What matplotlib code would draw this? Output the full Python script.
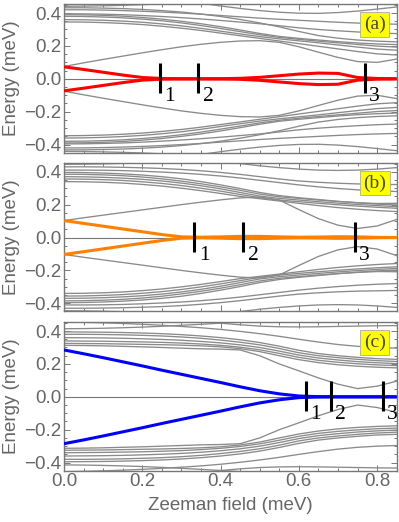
import matplotlib
matplotlib.use("Agg")
import matplotlib.pyplot as plt
import numpy as np
from matplotlib.ticker import MultipleLocator

# ---------------- data ----------------
field = [0.00, 0.05, 0.10, 0.15, 0.20, 0.25, 0.30, 0.35, 0.40, 0.45,
         0.50, 0.55, 0.60, 0.65, 0.70, 0.75, 0.80, 0.85]

# panel (a): upper halves of the gray bands (spectrum is +/- symmetric)
a1 = [0.075,0.097,0.118,0.138,0.158,0.177,0.195,0.21,0.222,0.23,0.232,0.222,0.195,0.162,0.13,0.105,0.1,0.12]
a2 = [0.346,0.345,0.342,0.337,0.33,0.32,0.308,0.294,0.278,0.262,0.246,0.23,0.214,0.198,0.182,0.166,0.152,0.145]
a3 = [0.36,0.359,0.356,0.351,0.344,0.334,0.322,0.307,0.29,0.273,0.257,0.243,0.231,0.219,0.206,0.193,0.181,0.174]
a4 = [0.38,0.379,0.376,0.371,0.363,0.353,0.34,0.324,0.306,0.287,0.268,0.252,0.24,0.229,0.219,0.209,0.199,0.193]
a5 = [0.396,0.395,0.393,0.39,0.385,0.379,0.372,0.364,0.355,0.345,0.335,0.323,0.31,0.3,0.292,0.285,0.279,0.275]
a6 = [0.42,0.42,0.418,0.415,0.411,0.406,0.4,0.393,0.385,0.377,0.369,0.362,0.356,0.35,0.344,0.339,0.335,0.332]
a7 = [0.441,0.442,0.444,0.447,0.451,0.456,0.461,0.467,0.473,0.479,0.485,0.491,0.497,0.502,0.507,0.512,0.516,0.52]
a8 = [0.6,0.58,0.56,0.54,0.52,0.5,0.478,0.46,0.443,0.428,0.415,0.405,0.399,0.398,0.403,0.412,0.424,0.437]
a9 = [0.432,0.432,0.43,0.427,0.422,0.415,0.406,0.394,0.379,0.361,0.34,0.316,0.288,0.263,0.247,0.236,0.229,0.225]
a10 = [0.39,0.389,0.386,0.381,0.373,0.363,0.35,0.335,0.317,0.297,0.276,0.258,0.246,0.236,0.226,0.218,0.212,0.208]

# panel (b)
b1 = [0.103,0.12,0.136,0.152,0.168,0.184,0.2,0.215,0.229,0.241,0.246,0.228,0.17,0.115,0.075,0.055,0.07,0.11]
b2 = [0.34,0.339,0.336,0.331,0.323,0.313,0.3,0.285,0.268,0.25,0.236,0.222,0.208,0.194,0.182,0.172,0.164,0.158]
b3 = [0.356,0.355,0.352,0.347,0.339,0.329,0.316,0.3,0.282,0.262,0.242,0.228,0.218,0.208,0.199,0.191,0.184,0.178]
b4 = [0.37,0.369,0.366,0.361,0.354,0.344,0.331,0.315,0.296,0.274,0.252,0.238,0.228,0.218,0.209,0.201,0.194,0.188]
b5 = [0.396,0.395,0.392,0.387,0.38,0.37,0.357,0.34,0.32,0.298,0.274,0.255,0.242,0.231,0.22,0.211,0.203,0.198]
b6 = [0.41,0.41,0.409,0.407,0.403,0.398,0.392,0.384,0.374,0.362,0.348,0.334,0.32,0.308,0.298,0.29,0.284,0.28]
b7 = [0.445,0.446,0.448,0.451,0.455,0.46,0.466,0.472,0.478,0.485,0.492,0.5,0.508,0.515,0.52,0.525,0.53,0.535]
b8 = [0.62,0.6,0.58,0.56,0.54,0.52,0.5,0.482,0.465,0.45,0.436,0.425,0.416,0.41,0.408,0.41,0.416,0.425]
b9 = [0.43,0.43,0.429,0.427,0.424,0.42,0.414,0.406,0.396,0.384,0.37,0.356,0.344,0.336,0.33,0.326,0.324,0.322]
b10 = [0.385,0.384,0.381,0.376,0.368,0.357,0.343,0.327,0.308,0.287,0.264,0.248,0.238,0.228,0.219,0.212,0.207,0.208]

# panel (c)
c1 = [0.313,0.312,0.31,0.307,0.304,0.3,0.296,0.292,0.29,0.285,0.25,0.2,0.158,0.115,0.077,0.05,0.065,0.095]
c2 = [0.325,0.324,0.323,0.321,0.319,0.317,0.314,0.31,0.304,0.293,0.275,0.25,0.226,0.208,0.195,0.186,0.18,0.176]
c3 = [0.34,0.339,0.338,0.336,0.334,0.331,0.327,0.321,0.313,0.302,0.286,0.264,0.24,0.222,0.21,0.201,0.194,0.19]
c4 = [0.36,0.359,0.358,0.356,0.353,0.349,0.344,0.337,0.328,0.316,0.3,0.278,0.254,0.236,0.224,0.214,0.207,0.202]
c5 = [0.38,0.38,0.379,0.377,0.374,0.37,0.364,0.356,0.345,0.332,0.316,0.294,0.268,0.25,0.238,0.228,0.22,0.215]
c6 = [0.414,0.415,0.417,0.42,0.424,0.429,0.435,0.441,0.448,0.455,0.462,0.47,0.478,0.486,0.494,0.5,0.506,0.51]
c7 = [0.455,0.453,0.45,0.446,0.441,0.435,0.428,0.42,0.41,0.398,0.384,0.368,0.35,0.333,0.318,0.307,0.3,0.296]
c8 = [0.6,0.58,0.56,0.54,0.52,0.5,0.48,0.462,0.448,0.438,0.43,0.426,0.425,0.426,0.428,0.43,0.432,0.433]
c9 = [0.395,0.394,0.393,0.391,0.388,0.384,0.378,0.37,0.36,0.347,0.33,0.308,0.283,0.263,0.25,0.24,0.232,0.228]

# lowest (Majorana-like) states, upper branch
red_state = [0.073,0.057,0.04,0.023,0.008,0.002,0.001,0.001,0.001,0.003,0.009,0.019,0.029,0.035,0.033,0.008,0.002,0.001]
orange_state = [0.103,0.086,0.069,0.052,0.035,0.018,0.004,0.002,0.004,0.007,0.007,0.004,0.002,0.003,0.005,0.004,0.001,0.0]
blue_state = [0.285,0.262,0.238,0.213,0.188,0.162,0.137,0.112,0.087,0.061,0.037,0.018,0.005,0.001,0.0,0.0,0.0,0.0]

# marker positions
marks_a = [0.244, 0.343, 0.768]
marks_b = [0.333, 0.458, 0.743]
marks_c = [0.618, 0.682, 0.814]
mark_labels = ["1", "2", "3"]
panel_labels = ["(a)", "(b)", "(c)"]

xticks = [0.0, 0.2, 0.4, 0.6, 0.8]
yticks = [-0.4, -0.2, 0.0, 0.2, 0.4]

# ---------------- figure ----------------
fig = plt.figure(figsize=(3.99, 5.22), dpi=100)
plt.rcParams['font.family'] = ['Liberation Sans', 'DejaVu Sans']

W = 399.0
H = 522.0
left = 64 / W
width = 332.7 / W
tops = [4.0, 162.7, 322.0]
height = 148.5 / H

panels = [
    ([a1, a2, a3, a4, a5, a6, a7, a8, a9, a10], red_state, '#ff0000', marks_a),
    ([b1, b2, b3, b4, b5, b6, b7, b8, b9, b10], orange_state, '#ff8000', marks_b),
    ([c1, c2, c3, c4, c5, c6, c7, c8, c9], blue_state, '#0000ff', marks_c),
]

grey_txt = '#666666'
frame_col = '#777777'
fx = np.array(field)

for i, (bands, state, col, marks) in enumerate(panels):
    bottom = 1 - (tops[i] + 148.5) / H
    ax = fig.add_axes([left, bottom, width, height])
    for band in bands:
        b = np.array(band)
        ax.plot(fx, b, color='#8a8a8a', lw=0.95, zorder=2)
        ax.plot(fx, -b, color='#8a8a8a', lw=0.95, zorder=2)
    ax.axhline(0, color='#777777', lw=0.8, zorder=3)
    s = np.array(state)
    ax.plot(fx, s, color=col, lw=2.2, zorder=4, solid_capstyle='butt')
    ax.plot(fx, -s, color=col, lw=2.2, zorder=4, solid_capstyle='butt')
    for xm, lab in zip(marks, mark_labels):
        ax.plot([xm, xm], [-0.085, 0.095], color='black', lw=2.2, zorder=5,
                solid_capstyle='butt')
        ax.text(xm + 0.025, -0.108, lab, fontsize=15.5, ha='center', va='center',
                family=['Liberation Serif', 'DejaVu Serif'], zorder=6)
    ax.text(0.934, 0.862, panel_labels[i], transform=ax.transAxes,
            fontsize=14, ha='center', va='center',
            family=['Liberation Serif', 'DejaVu Serif'], color='#444444',
            bbox=dict(boxstyle='square,pad=0.18', facecolor='#ffff00',
                      edgecolor='#aaaaaa', lw=0.6), zorder=7)

    ax.set_xlim(0, 0.85)
    ax.set_ylim(-0.448, 0.455)
    ax.set_yticks(yticks)
    ax.set_xticks(xticks)
    ax.xaxis.set_minor_locator(MultipleLocator(0.05))
    ax.yaxis.set_minor_locator(MultipleLocator(0.05))
    ax.tick_params(which='both', direction='in', top=True, right=True,
                   color=frame_col, width=0.7)
    ax.tick_params(which='major', length=4)
    ax.tick_params(which='minor', length=2)
    ax.tick_params(axis='both', labelsize=13.5, labelcolor=grey_txt, pad=2)
    for sp in ax.spines.values():
        sp.set_color(frame_col)
        sp.set_linewidth(1.0)
    ax.set_yticklabels([f"{v:.1f}".replace('-', '\u2212') for v in yticks])
    ax.set_ylabel("Energy (meV)", fontsize=13.5, color=grey_txt, labelpad=3)
    if i < 2:
        ax.set_xticklabels([])
    else:
        ax.set_xticklabels([f"{v:.1f}" for v in xticks])
        ax.set_xlabel("Zeeman field (meV)", fontsize=13.5, color=grey_txt,
                      labelpad=5)

fig.savefig("out.png", dpi=100)
